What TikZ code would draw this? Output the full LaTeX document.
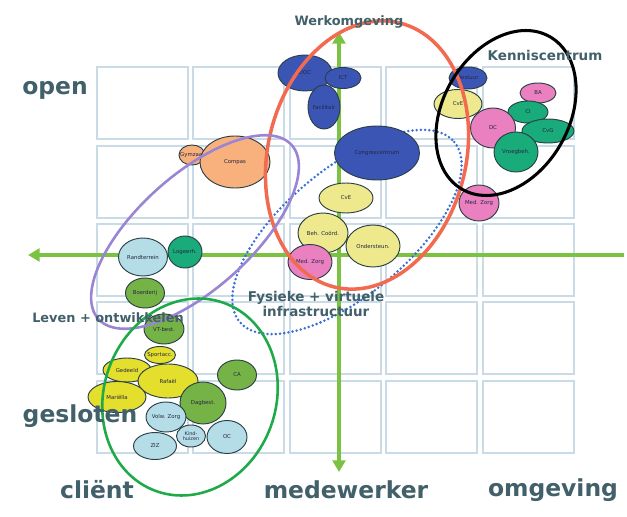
\documentclass[tikz,border=0pt]{standalone}
\usepackage{fontspec}
\setmainfont{DejaVu Sans}
\usetikzlibrary{shapes.geometric,arrows.meta}
\definecolor{gridc}{HTML}{C9DBE6}
\definecolor{arrc}{HTML}{7CC242}
\definecolor{labc}{HTML}{41606A}
\definecolor{edgec}{HTML}{2B3F45}
\definecolor{txtc}{HTML}{252840}
\definecolor{navy}{HTML}{3B55B5}
\definecolor{peach}{HTML}{F8B07C}
\definecolor{pyel}{HTML}{EEE98C}
\definecolor{byel}{HTML}{E3DF2C}
\definecolor{pinkc}{HTML}{EA80C0}
\definecolor{teal}{HTML}{1AAB7A}
\definecolor{lgreen}{HTML}{76B347}
\definecolor{lblue}{HTML}{B5DDE8}
\definecolor{redc}{HTML}{F26A4F}
\definecolor{purp}{HTML}{9A84D4}
\definecolor{greenc}{HTML}{1FAA4A}
\definecolor{bluedot}{HTML}{3A6FD8}
\begin{document}
\begin{tikzpicture}[x=0.03cm,y=-0.03cm,
  cell/.style={draw=gridc, fill=white, line width=1pt},
  axisarrow/.style={draw=arrc, line width=2.6pt, -{Triangle[length=10pt,width=11pt]}},
  bub/.style={ellipse, draw=edgec, fill=#1, line width=0.8pt, inner sep=-8pt,
    font=\fontsize{4.6}{5}\selectfont, text=txtc, align=center},
  sz/.style 2 args={minimum width=#1*0.06cm, minimum height=#2*0.06cm},
  big/.style={font=\bfseries\fontsize{20}{24}\selectfont, text=labc},
  mid/.style={font=\bfseries\fontsize{11.5}{13}\selectfont, text=labc, align=center},
  ring/.style={line width=2.6pt}
]
\useasboundingbox (0,0) rectangle (627,517);
% grid
\foreach \x in {97,193,290,386,483}
  \foreach \y in {67,146,224,302,381}
    \draw[cell] (\x,\y) rectangle ++(91,72);
% axes
\coordinate (hR) at (624,255);
\coordinate (hL) at (28,255);
\coordinate (vT) at (339,32);
\coordinate (vB) at (339,472);
\draw[axisarrow] (hR) -- (hL);
\draw[axisarrow, {Triangle[length=10pt,width=11pt]}-{Triangle[length=10pt,width=11pt]}] (vB) -- (vT);
% blue dotted ellipse (behind nodes)
\draw[bluedot, line width=2.4pt, line cap=round, dash pattern=on 0pt off 3.6pt,
  rotate around={40:(347,232)}] (347,232) ellipse [x radius=140, y radius=63];
% top cluster
\node[bub=navy, sz={27}{18}] (doc) at (305,73) {DOC};
\node[bub=navy, sz={18}{10.5}] (ict) at (343,78) {ICT};
\node[bub=navy, sz={16}{22}] (fac) at (324,107) {Facilitair};
\node[bub=navy, sz={42.5}{27}] (cong) at (377,153) {Congrescentrum};
\node[bub=pyel, sz={27}{15}] (cve1) at (346,198) {CvE};
\node[bub=pyel, sz={25}{20}] (beh) at (323,233) {Beh. Coörd.};
\node[bub=pyel, sz={27}{21}] (ond) at (373,246) {Ondersteun.};
\node[bub=pinkc, sz={22}{17.5}] (mz1) at (310,262) {Med. Zorg};
\node[bub=pinkc, sz={20}{18}] (mz2) at (479,203) {Med. Zorg};
% kenniscentrum cluster
\node[bub=navy, sz={19}{11}] (best) at (468,78) {Bestuur};
\node[bub=pyel, sz={24}{14.5}] (cve2) at (458,104) {CvE};
\node[bub=pinkc, sz={18}{10}] (ba) at (538,93) {BA};
\node[bub=teal, sz={20}{11}] (ci) at (528,112) {CI};
\node[bub=pinkc, sz={22.5}{20}] (dc) at (493,128) {DC};
\node[bub=teal, sz={26}{12}] (cvg) at (548,131) {CvG};
\node[bub=teal, sz={22}{20}] (vroeg) at (516,152) {Vroegbeh.};
% left middle
\node[bub=peach, sz={13}{10}] (gym) at (192,155) {Gymzaal};
\node[bub=peach, sz={35}{26}] (comp) at (235,162) {Compas};
\node[bub=lblue, sz={24.5}{19}] (rand) at (143,257) {Randterrein};
\node[bub=teal, sz={17}{16}] (log) at (185,252) {Logeerh.};
\node[bub=lgreen, sz={19.5}{15}] (boer) at (145,293) {Boerderij};
% bottom-left cluster
\node[bub=lgreen, sz={20}{15}] (vt) at (164,329) {VT-best.};
\node[bub=byel, sz={15.5}{8.5}] (sport) at (160,355) {Sportacc.};
\node[bub=byel, sz={24}{12}] (ged) at (127,370) {Gedeeld};
\node[bub=byel, sz={30}{17}] (raf) at (168,381) {Rafaël};
\node[bub=byel, sz={29}{15.5}] (mar) at (117,397) {Mariëlla};
\node[bub=lgreen, sz={19.5}{15}] (ca) at (237,375) {CA};
\node[bub=lgreen, sz={23}{21}] (dag) at (203,403) {Dagbest.};
\node[bub=lblue, sz={20}{15}] (volw) at (166,417) {Volw. Zorg};
\node[bub=lblue, sz={14.5}{11}, font=\fontsize{4.2}{4.4}\selectfont] (kind) at (191,436) {Kind-\\huizen};
\node[bub=lblue, sz={21.5}{13.5}] (ziz) at (155,446) {ZIZ};
\node[bub=lblue, sz={20}{16.5}] (oc) at (227,437) {OC};
% big rings
\draw[redc, line width=3pt, rotate around={-14:(367,155)}] (367,155) ellipse [x radius=99, y radius=136];
\draw[black, ring, rotate around={-30:(506,113)}] (506,113) ellipse [x radius=63, y radius=88];
\draw[purp, ring, line width=2.2pt, rotate around={42:(195,232)}] (195,232) ellipse [x radius=130, y radius=57];
\draw[greenc, ring, line width=2.2pt, rotate around={-20:(190,397)}] (190,397) ellipse [x radius=86, y radius=100];
% labels
\node[big] (open) at (55,90) {open};
\node[big] (gesl) at (80,416) {gesloten};
\node[big] (cli) at (97,490) {cliënt};
\node[big] (mede) at (346,490) {medewerker};
\node[big] (omg) at (553,490) {omgeving};
\node[mid, font=\bfseries\fontsize{11}{13}\selectfont] (werk) at (349,22) {Werkomgeving};
\node[mid] (kenn) at (545,55) {Kenniscentrum};
\node[mid, font=\bfseries\fontsize{11}{13}\selectfont] (leven) at (108,318) {Leven + ontwikkelen};
\node[mid] (fys) at (316,304) {Fysieke + virtuele\\infrastructuur};
\end{tikzpicture}
\end{document}
